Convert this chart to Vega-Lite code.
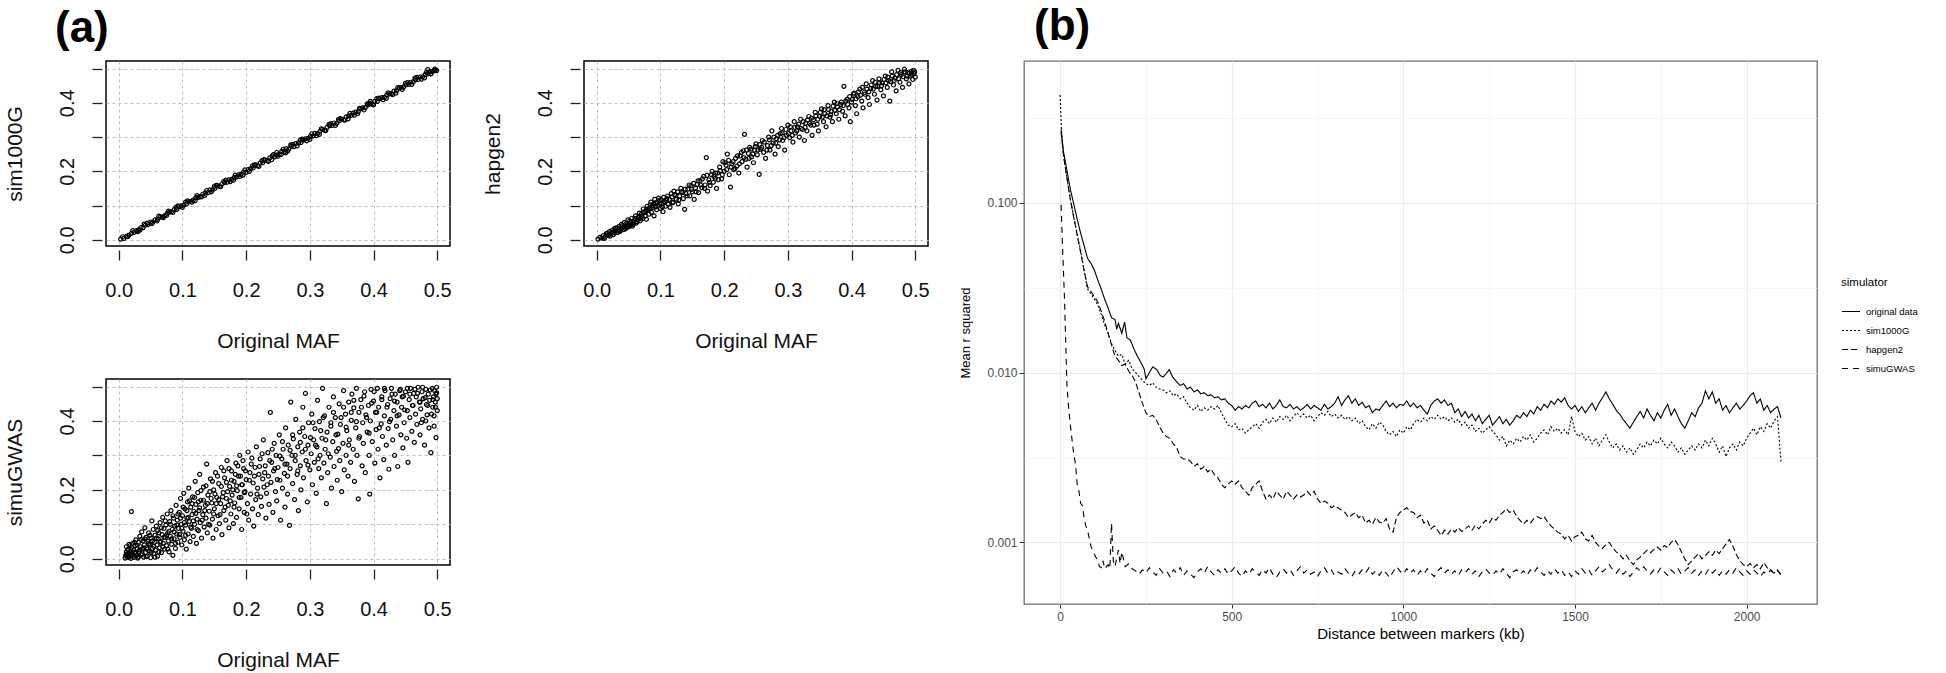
{
"$schema": "https://vega.github.io/schema/vega-lite/v6.json",
"padding": {"left": 3, "top": 4, "right": 0, "bottom": 0},
"autosize": {"type": "pad"},
"config": {
  "font": "Liberation Sans",
  "title": {"font": "Liberation Sans", "fontSize": 44, "fontWeight": "bold", "anchor": "start", "frame": "group", "color": "black"}
},
"datasets": {
"s1000": [
{"x":0.003,"y":0.002},{"x":0.008,"y":0.004},{"x":0.012,"y":0.010},{"x":0.016,"y":0.014},{"x":0.020,"y":0.019},{"x":0.024,"y":0.022},{"x":0.028,"y":0.027},{"x":0.031,"y":0.029},{"x":0.035,"y":0.036},{"x":0.038,"y":0.035},{"x":0.042,"y":0.043},{"x":0.046,"y":0.044},{"x":0.050,"y":0.052},{"x":0.053,"y":0.051},{"x":0.057,"y":0.058},{"x":0.061,"y":0.060},{"x":0.065,"y":0.066},{"x":0.068,"y":0.067},{"x":0.072,"y":0.070},{"x":0.076,"y":0.077},{"x":0.080,"y":0.081},{"x":0.083,"y":0.082},{"x":0.087,"y":0.088},{"x":0.091,"y":0.089},{"x":0.095,"y":0.097},{"x":0.098,"y":0.099},{"x":0.102,"y":0.101},{"x":0.106,"y":0.104},{"x":0.110,"y":0.111},{"x":0.113,"y":0.112},{"x":0.117,"y":0.116},{"x":0.121,"y":0.123},{"x":0.125,"y":0.124},{"x":0.128,"y":0.126},{"x":0.132,"y":0.133},{"x":0.136,"y":0.137},{"x":0.140,"y":0.138},{"x":0.143,"y":0.146},{"x":0.147,"y":0.145},{"x":0.151,"y":0.150},{"x":0.155,"y":0.158},{"x":0.158,"y":0.156},{"x":0.162,"y":0.163},{"x":0.166,"y":0.167},{"x":0.170,"y":0.168},{"x":0.173,"y":0.175},{"x":0.177,"y":0.176},{"x":0.181,"y":0.182},{"x":0.185,"y":0.184},{"x":0.188,"y":0.190},{"x":0.192,"y":0.191},{"x":0.196,"y":0.198},{"x":0.200,"y":0.197},{"x":0.203,"y":0.205},{"x":0.207,"y":0.208},{"x":0.211,"y":0.210},{"x":0.215,"y":0.219},{"x":0.218,"y":0.216},{"x":0.222,"y":0.224},{"x":0.226,"y":0.225},{"x":0.230,"y":0.233},{"x":0.233,"y":0.231},{"x":0.237,"y":0.239},{"x":0.241,"y":0.245},{"x":0.245,"y":0.242},{"x":0.248,"y":0.247},{"x":0.252,"y":0.250},{"x":0.256,"y":0.258},{"x":0.260,"y":0.257},{"x":0.263,"y":0.266},{"x":0.267,"y":0.265},{"x":0.271,"y":0.273},{"x":0.275,"y":0.272},{"x":0.278,"y":0.281},{"x":0.282,"y":0.283},{"x":0.286,"y":0.284},{"x":0.290,"y":0.292},{"x":0.293,"y":0.295},{"x":0.297,"y":0.296},{"x":0.301,"y":0.302},{"x":0.305,"y":0.303},{"x":0.308,"y":0.311},{"x":0.312,"y":0.310},{"x":0.316,"y":0.317},{"x":0.320,"y":0.322},{"x":0.323,"y":0.320},{"x":0.327,"y":0.328},{"x":0.331,"y":0.333},{"x":0.335,"y":0.334},{"x":0.338,"y":0.341},{"x":0.342,"y":0.340},{"x":0.346,"y":0.347},{"x":0.350,"y":0.352},{"x":0.353,"y":0.350},{"x":0.357,"y":0.359},{"x":0.361,"y":0.362},{"x":0.365,"y":0.363},{"x":0.368,"y":0.370},{"x":0.372,"y":0.373},{"x":0.376,"y":0.374},{"x":0.380,"y":0.383},{"x":0.383,"y":0.385},{"x":0.387,"y":0.386},{"x":0.391,"y":0.393},{"x":0.395,"y":0.397},{"x":0.398,"y":0.396},{"x":0.402,"y":0.404},{"x":0.406,"y":0.404},{"x":0.410,"y":0.412},{"x":0.413,"y":0.415},{"x":0.417,"y":0.416},{"x":0.421,"y":0.423},{"x":0.425,"y":0.426},{"x":0.428,"y":0.427},{"x":0.432,"y":0.434},{"x":0.436,"y":0.435},{"x":0.440,"y":0.442},{"x":0.443,"y":0.445},{"x":0.447,"y":0.446},{"x":0.451,"y":0.452},{"x":0.455,"y":0.454},{"x":0.458,"y":0.460},{"x":0.462,"y":0.461},{"x":0.466,"y":0.467},{"x":0.470,"y":0.468},{"x":0.473,"y":0.475},{"x":0.477,"y":0.476},{"x":0.481,"y":0.482},{"x":0.485,"y":0.484},{"x":0.488,"y":0.490},{"x":0.492,"y":0.491},{"x":0.495,"y":0.493},{"x":0.497,"y":0.496},{"x":0.499,"y":0.494},{"x":0.485,"y":0.497},
{"x":0.030,"y":0.024},{"x":0.060,"y":0.055},{"x":0.090,"y":0.095},{"x":0.120,"y":0.114},{"x":0.150,"y":0.156},{"x":0.180,"y":0.174},{"x":0.210,"y":0.216},{"x":0.240,"y":0.234},{"x":0.270,"y":0.277},{"x":0.300,"y":0.293},{"x":0.330,"y":0.337},{"x":0.360,"y":0.353},{"x":0.390,"y":0.397},{"x":0.420,"y":0.413},{"x":0.450,"y":0.457},{"x":0.480,"y":0.473},{"x":0.045,"y":0.049},{"x":0.075,"y":0.071},{"x":0.105,"y":0.110},{"x":0.135,"y":0.130},{"x":0.165,"y":0.171},{"x":0.195,"y":0.189},{"x":0.225,"y":0.231},{"x":0.255,"y":0.249},{"x":0.285,"y":0.291},{"x":0.315,"y":0.308},{"x":0.345,"y":0.352},{"x":0.375,"y":0.368},{"x":0.405,"y":0.412},{"x":0.435,"y":0.428},{"x":0.465,"y":0.472},{"x":0.490,"y":0.485},{"x":0.248,"y":0.255},{"x":0.262,"y":0.254},{"x":0.395,"y":0.404},
{"x":0.006,"y":0.009},{"x":0.014,"y":0.009},{"x":0.022,"y":0.027},{"x":0.033,"y":0.028},{"x":0.040,"y":0.046},{"x":0.052,"y":0.047},{"x":0.063,"y":0.069},{"x":0.070,"y":0.065},{"x":0.078,"y":0.084},{"x":0.085,"y":0.080},{"x":0.093,"y":0.099},{"x":0.100,"y":0.095},{"x":0.108,"y":0.114},{"x":0.115,"y":0.110},{"x":0.123,"y":0.129},{"x":0.130,"y":0.125},{"x":0.138,"y":0.144},{"x":0.145,"y":0.140},{"x":0.153,"y":0.159},{"x":0.160,"y":0.155},{"x":0.168,"y":0.174},{"x":0.175,"y":0.170},{"x":0.183,"y":0.189},{"x":0.190,"y":0.185},{"x":0.198,"y":0.204},{"x":0.205,"y":0.200},{"x":0.213,"y":0.219},{"x":0.220,"y":0.214},{"x":0.228,"y":0.234},{"x":0.235,"y":0.229},{"x":0.243,"y":0.249},{"x":0.250,"y":0.244},{"x":0.258,"y":0.264},{"x":0.265,"y":0.259},{"x":0.273,"y":0.279},{"x":0.280,"y":0.274},{"x":0.288,"y":0.294},{"x":0.295,"y":0.289},{"x":0.303,"y":0.309},{"x":0.310,"y":0.304},{"x":0.318,"y":0.324},{"x":0.325,"y":0.319},{"x":0.333,"y":0.339},{"x":0.340,"y":0.334},{"x":0.348,"y":0.354},{"x":0.355,"y":0.349},{"x":0.363,"y":0.369},{"x":0.370,"y":0.364},{"x":0.378,"y":0.384},{"x":0.385,"y":0.379},{"x":0.393,"y":0.399},{"x":0.400,"y":0.394},{"x":0.408,"y":0.414},{"x":0.415,"y":0.409},{"x":0.423,"y":0.429},{"x":0.430,"y":0.424},{"x":0.438,"y":0.444},{"x":0.445,"y":0.439},{"x":0.453,"y":0.459},{"x":0.460,"y":0.454},{"x":0.468,"y":0.474},{"x":0.475,"y":0.469},{"x":0.483,"y":0.489},{"x":0.490,"y":0.484},{"x":0.496,"y":0.498}
],
"hap": [
{"x":0.002,"y":0.002},{"x":0.008,"y":0.005},{"x":0.010,"y":0.012},{"x":0.013,"y":0.008},{"x":0.015,"y":0.018},{"x":0.018,"y":0.013},{"x":0.020,"y":0.024},{"x":0.022,"y":0.017},{"x":0.025,"y":0.021},{"x":0.027,"y":0.030},{"x":0.028,"y":0.020},{"x":0.030,"y":0.026},{"x":0.032,"y":0.035},{"x":0.034,"y":0.028},{"x":0.036,"y":0.024},{"x":0.038,"y":0.033},{"x":0.040,"y":0.041},{"x":0.042,"y":0.030},{"x":0.044,"y":0.038},{"x":0.046,"y":0.047},{"x":0.048,"y":0.036},{"x":0.050,"y":0.043},{"x":0.052,"y":0.055},{"x":0.054,"y":0.046},{"x":0.056,"y":0.040},{"x":0.058,"y":0.052},{"x":0.060,"y":0.062},{"x":0.062,"y":0.049},{"x":0.064,"y":0.058},{"x":0.066,"y":0.068},{"x":0.068,"y":0.055},{"x":0.070,"y":0.075},{"x":0.072,"y":0.062},{"x":0.074,"y":0.082},{"x":0.076,"y":0.070},{"x":0.078,"y":0.060},{"x":0.080,"y":0.090},{"x":0.082,"y":0.075},{"x":0.084,"y":0.102},{"x":0.086,"y":0.080},{"x":0.088,"y":0.095},{"x":0.090,"y":0.070},{"x":0.092,"y":0.108},{"x":0.094,"y":0.088},{"x":0.096,"y":0.100},{"x":0.098,"y":0.115},{"x":0.100,"y":0.092},{"x":0.102,"y":0.105},{"x":0.104,"y":0.082},{"x":0.106,"y":0.112},{"x":0.108,"y":0.098},{"x":0.110,"y":0.120},{"x":0.112,"y":0.104},{"x":0.115,"y":0.095},{"x":0.118,"y":0.125},{"x":0.120,"y":0.110},{"x":0.122,"y":0.132},{"x":0.125,"y":0.118},{"x":0.128,"y":0.105},{"x":0.130,"y":0.128},{"x":0.133,"y":0.140},{"x":0.136,"y":0.120},{"x":0.138,"y":0.089},{"x":0.140,"y":0.135},{"x":0.143,"y":0.148},{"x":0.146,"y":0.128},{"x":0.148,"y":0.158},{"x":0.150,"y":0.140},{"x":0.153,"y":0.118},{"x":0.155,"y":0.150},{"x":0.158,"y":0.162},{"x":0.160,"y":0.138},{"x":0.162,"y":0.172},{"x":0.165,"y":0.152},{"x":0.168,"y":0.185},{"x":0.170,"y":0.160},{"x":0.172,"y":0.240},{"x":0.174,"y":0.142},{"x":0.176,"y":0.175},{"x":0.178,"y":0.158},{"x":0.180,"y":0.190},{"x":0.183,"y":0.168},{"x":0.186,"y":0.180},{"x":0.188,"y":0.150},{"x":0.190,"y":0.195},{"x":0.193,"y":0.212},{"x":0.196,"y":0.178},{"x":0.198,"y":0.228},{"x":0.200,"y":0.200},{"x":0.203,"y":0.218},{"x":0.205,"y":0.250},{"x":0.208,"y":0.190},{"x":0.210,"y":0.154},{"x":0.212,"y":0.222},{"x":0.215,"y":0.205},{"x":0.218,"y":0.238},{"x":0.220,"y":0.215},{"x":0.223,"y":0.195},{"x":0.225,"y":0.245},{"x":0.228,"y":0.228},{"x":0.230,"y":0.260},{"x":0.232,"y":0.308},{"x":0.234,"y":0.235},{"x":0.236,"y":0.212},{"x":0.238,"y":0.252},{"x":0.240,"y":0.270},{"x":0.243,"y":0.242},{"x":0.246,"y":0.225},{"x":0.248,"y":0.262},{"x":0.250,"y":0.280},{"x":0.252,"y":0.248},{"x":0.255,"y":0.191},{"x":0.257,"y":0.265},{"x":0.260,"y":0.290},{"x":0.262,"y":0.255},{"x":0.265,"y":0.238},{"x":0.268,"y":0.275},{"x":0.270,"y":0.300},{"x":0.272,"y":0.262},{"x":0.275,"y":0.318},{"x":0.277,"y":0.282},{"x":0.280,"y":0.250},{"x":0.282,"y":0.295},{"x":0.285,"y":0.272},{"x":0.288,"y":0.310},{"x":0.290,"y":0.325},{"x":0.292,"y":0.290},{"x":0.295,"y":0.262},{"x":0.298,"y":0.305},{"x":0.300,"y":0.335},{"x":0.303,"y":0.298},{"x":0.305,"y":0.318},{"x":0.308,"y":0.285},{"x":0.310,"y":0.345},{"x":0.312,"y":0.312},{"x":0.315,"y":0.330},{"x":0.318,"y":0.300},{"x":0.320,"y":0.352},{"x":0.323,"y":0.322},{"x":0.326,"y":0.290},{"x":0.328,"y":0.340},{"x":0.330,"y":0.318},{"x":0.333,"y":0.360},{"x":0.336,"y":0.335},{"x":0.338,"y":0.305},{"x":0.340,"y":0.350},{"x":0.343,"y":0.372},{"x":0.346,"y":0.338},{"x":0.348,"y":0.318},{"x":0.350,"y":0.360},{"x":0.353,"y":0.382},{"x":0.356,"y":0.345},{"x":0.358,"y":0.368},{"x":0.360,"y":0.330},{"x":0.363,"y":0.392},{"x":0.366,"y":0.358},{"x":0.368,"y":0.375},{"x":0.370,"y":0.345},{"x":0.373,"y":0.402},{"x":0.376,"y":0.368},{"x":0.378,"y":0.388},{"x":0.380,"y":0.352},{"x":0.383,"y":0.395},{"x":0.386,"y":0.375},{"x":0.388,"y":0.448},{"x":0.390,"y":0.362},{"x":0.393,"y":0.410},{"x":0.396,"y":0.385},{"x":0.398,"y":0.345},{"x":0.400,"y":0.402},{"x":0.403,"y":0.425},{"x":0.406,"y":0.392},{"x":0.408,"y":0.368},{"x":0.410,"y":0.418},{"x":0.413,"y":0.440},{"x":0.416,"y":0.405},{"x":0.418,"y":0.385},{"x":0.420,"y":0.430},{"x":0.423,"y":0.455},{"x":0.426,"y":0.415},{"x":0.428,"y":0.395},{"x":0.430,"y":0.442},{"x":0.433,"y":0.465},{"x":0.436,"y":0.425},{"x":0.438,"y":0.448},{"x":0.440,"y":0.408},{"x":0.443,"y":0.470},{"x":0.446,"y":0.438},{"x":0.448,"y":0.458},{"x":0.450,"y":0.420},{"x":0.453,"y":0.478},{"x":0.456,"y":0.445},{"x":0.458,"y":0.465},{"x":0.460,"y":0.405},{"x":0.463,"y":0.490},{"x":0.466,"y":0.452},{"x":0.468,"y":0.472},{"x":0.470,"y":0.435},{"x":0.473,"y":0.495},{"x":0.476,"y":0.460},{"x":0.478,"y":0.482},{"x":0.480,"y":0.445},{"x":0.483,"y":0.498},{"x":0.486,"y":0.470},{"x":0.488,"y":0.488},{"x":0.490,"y":0.455},{"x":0.492,"y":0.478},{"x":0.494,"y":0.492},{"x":0.496,"y":0.468},{"x":0.498,"y":0.485},{"x":0.500,"y":0.475},{"x":0.497,"y":0.495},
{"x":0.005,"y":0.007},{"x":0.012,"y":0.004},{"x":0.017,"y":0.020},{"x":0.021,"y":0.011},{"x":0.024,"y":0.028},{"x":0.026,"y":0.015},{"x":0.029,"y":0.034},{"x":0.033,"y":0.022},{"x":0.035,"y":0.039},{"x":0.037,"y":0.027},{"x":0.039,"y":0.045},{"x":0.041,"y":0.036},{"x":0.043,"y":0.050},{"x":0.045,"y":0.032},{"x":0.047,"y":0.041},{"x":0.049,"y":0.058},{"x":0.051,"y":0.039},{"x":0.053,"y":0.050},{"x":0.055,"y":0.063},{"x":0.057,"y":0.045},{"x":0.059,"y":0.057},{"x":0.061,"y":0.070},{"x":0.063,"y":0.053},{"x":0.065,"y":0.064},{"x":0.067,"y":0.078},{"x":0.069,"y":0.062},{"x":0.071,"y":0.068},{"x":0.073,"y":0.090},{"x":0.075,"y":0.079},{"x":0.077,"y":0.085},{"x":0.079,"y":0.098},{"x":0.081,"y":0.087},{"x":0.083,"y":0.093},{"x":0.085,"y":0.110},{"x":0.087,"y":0.099},{"x":0.089,"y":0.104},{"x":0.091,"y":0.118},{"x":0.093,"y":0.096},{"x":0.095,"y":0.109},{"x":0.097,"y":0.122},{"x":0.099,"y":0.107},{"x":0.101,"y":0.117},{"x":0.103,"y":0.096},{"x":0.105,"y":0.124},{"x":0.107,"y":0.110},{"x":0.109,"y":0.115},{"x":0.111,"y":0.128},{"x":0.114,"y":0.118},{"x":0.117,"y":0.135},{"x":0.119,"y":0.108},{"x":0.121,"y":0.142},{"x":0.124,"y":0.130},{"x":0.127,"y":0.140},{"x":0.129,"y":0.116},{"x":0.132,"y":0.150},{"x":0.135,"y":0.138},{"x":0.139,"y":0.148},{"x":0.142,"y":0.128},{"x":0.145,"y":0.160},{"x":0.149,"y":0.147},{"x":0.152,"y":0.165},{"x":0.156,"y":0.140},{"x":0.159,"y":0.172},{"x":0.163,"y":0.160},{"x":0.166,"y":0.178},{"x":0.169,"y":0.150},{"x":0.173,"y":0.188},{"x":0.177,"y":0.168},{"x":0.181,"y":0.200},{"x":0.184,"y":0.185},{"x":0.187,"y":0.195},{"x":0.191,"y":0.176},{"x":0.194,"y":0.202},{"x":0.197,"y":0.190},{"x":0.201,"y":0.225},{"x":0.204,"y":0.205},{"x":0.207,"y":0.232},{"x":0.211,"y":0.212},{"x":0.214,"y":0.228},{"x":0.217,"y":0.208},{"x":0.221,"y":0.245},{"x":0.224,"y":0.222},{"x":0.227,"y":0.255},{"x":0.231,"y":0.240},{"x":0.235,"y":0.262},{"x":0.239,"y":0.238},{"x":0.242,"y":0.265},{"x":0.245,"y":0.250},{"x":0.249,"y":0.272},{"x":0.253,"y":0.262},{"x":0.256,"y":0.278},{"x":0.259,"y":0.270},{"x":0.263,"y":0.285},{"x":0.267,"y":0.262},{"x":0.271,"y":0.292},{"x":0.274,"y":0.275},{"x":0.278,"y":0.300},{"x":0.281,"y":0.282},{"x":0.284,"y":0.305},{"x":0.287,"y":0.292},{"x":0.291,"y":0.312},{"x":0.294,"y":0.298},{"x":0.297,"y":0.322},{"x":0.301,"y":0.310},{"x":0.304,"y":0.330},{"x":0.307,"y":0.305},{"x":0.311,"y":0.328},{"x":0.314,"y":0.318},{"x":0.317,"y":0.338},{"x":0.321,"y":0.325},{"x":0.324,"y":0.345},{"x":0.327,"y":0.328},{"x":0.331,"y":0.350},{"x":0.334,"y":0.340},{"x":0.337,"y":0.355},{"x":0.341,"y":0.335},{"x":0.344,"y":0.362},{"x":0.347,"y":0.352},{"x":0.351,"y":0.372},{"x":0.354,"y":0.358},{"x":0.357,"y":0.380},{"x":0.361,"y":0.362},{"x":0.364,"y":0.380},{"x":0.367,"y":0.365},{"x":0.371,"y":0.390},{"x":0.374,"y":0.378},{"x":0.377,"y":0.398},{"x":0.381,"y":0.380},{"x":0.384,"y":0.402},{"x":0.387,"y":0.392},{"x":0.391,"y":0.405},{"x":0.394,"y":0.395},{"x":0.397,"y":0.418},{"x":0.401,"y":0.410},{"x":0.404,"y":0.428},{"x":0.407,"y":0.412},{"x":0.411,"y":0.432},{"x":0.414,"y":0.422},{"x":0.417,"y":0.445},{"x":0.421,"y":0.425},{"x":0.424,"y":0.440},{"x":0.427,"y":0.432},{"x":0.431,"y":0.452},{"x":0.434,"y":0.440},{"x":0.437,"y":0.460},{"x":0.441,"y":0.448},{"x":0.444,"y":0.458},{"x":0.447,"y":0.450},{"x":0.451,"y":0.468},{"x":0.454,"y":0.458},{"x":0.457,"y":0.475},{"x":0.461,"y":0.462},{"x":0.464,"y":0.478},{"x":0.467,"y":0.465},{"x":0.471,"y":0.482},{"x":0.474,"y":0.470},{"x":0.477,"y":0.488},{"x":0.481,"y":0.476},{"x":0.484,"y":0.490},{"x":0.487,"y":0.478},{"x":0.491,"y":0.486},{"x":0.495,"y":0.480},{"x":0.499,"y":0.490}
],
"sgwas": [
{"x":0.010,"y":0.002},{"x":0.011,"y":0.010},{"x":0.012,"y":0.020},{"x":0.012,"y":0.035},{"x":0.013,"y":0.005},{"x":0.014,"y":0.015},{"x":0.015,"y":0.028},{"x":0.016,"y":0.042},{"x":0.017,"y":0.008},{"x":0.018,"y":0.022},{"x":0.019,"y":0.001},{"x":0.020,"y":0.032},{"x":0.020,"y":0.137},{"x":0.021,"y":0.012},{"x":0.022,"y":0.045},{"x":0.023,"y":0.025},{"x":0.024,"y":0.004},{"x":0.025,"y":0.018},{"x":0.026,"y":0.038},{"x":0.027,"y":0.055},{"x":0.028,"y":0.010},{"x":0.029,"y":0.030},{"x":0.030,"y":0.002},{"x":0.031,"y":0.048},{"x":0.032,"y":0.020},{"x":0.033,"y":0.065},{"x":0.034,"y":0.035},{"x":0.035,"y":0.012},{"x":0.036,"y":0.078},{"x":0.037,"y":0.028},{"x":0.038,"y":0.052},{"x":0.039,"y":0.005},{"x":0.040,"y":0.040},{"x":0.041,"y":0.090},{"x":0.042,"y":0.018},{"x":0.043,"y":0.062},{"x":0.044,"y":0.032},{"x":0.045,"y":0.008},{"x":0.046,"y":0.050},{"x":0.047,"y":0.075},{"x":0.048,"y":0.022},{"x":0.049,"y":0.042},{"x":0.050,"y":0.003},{"x":0.051,"y":0.060},{"x":0.052,"y":0.110},{"x":0.053,"y":0.030},{"x":0.054,"y":0.085},{"x":0.055,"y":0.015},{"x":0.056,"y":0.048},{"x":0.057,"y":0.068},{"x":0.058,"y":0.025},{"x":0.059,"y":0.095},{"x":0.060,"y":0.040},{"x":0.061,"y":0.008},{"x":0.062,"y":0.058},{"x":0.063,"y":0.075},{"x":0.064,"y":0.032},{"x":0.065,"y":0.105},{"x":0.066,"y":0.050},{"x":0.067,"y":0.018},{"x":0.068,"y":0.070},{"x":0.069,"y":0.120},{"x":0.070,"y":0.045},{"x":0.071,"y":0.088},{"x":0.072,"y":0.028},{"x":0.073,"y":0.062},{"x":0.074,"y":0.098},{"x":0.075,"y":0.038},{"x":0.076,"y":0.130},{"x":0.077,"y":0.075},{"x":0.078,"y":0.052},{"x":0.079,"y":0.020},{"x":0.080,"y":0.108},{"x":0.081,"y":0.065},{"x":0.082,"y":0.140},{"x":0.083,"y":0.042},{"x":0.084,"y":0.085},{"x":0.085,"y":0.010},{"x":0.086,"y":0.118},{"x":0.087,"y":0.058},{"x":0.088,"y":0.095},{"x":0.089,"y":0.030},{"x":0.090,"y":0.155},{"x":0.091,"y":0.072},{"x":0.092,"y":0.112},{"x":0.093,"y":0.048},{"x":0.094,"y":0.088},{"x":0.095,"y":0.135},{"x":0.096,"y":0.062},{"x":0.097,"y":0.175},{"x":0.098,"y":0.100},{"x":0.099,"y":0.040},{"x":0.100,"y":0.125},{"x":0.101,"y":0.080},{"x":0.102,"y":0.190},{"x":0.103,"y":0.055},{"x":0.104,"y":0.145},{"x":0.105,"y":0.098},{"x":0.106,"y":0.028},{"x":0.107,"y":0.118},{"x":0.108,"y":0.165},{"x":0.109,"y":0.072},{"x":0.110,"y":0.205},{"x":0.111,"y":0.108},{"x":0.112,"y":0.050},{"x":0.113,"y":0.150},{"x":0.114,"y":0.088},{"x":0.115,"y":0.128},{"x":0.116,"y":0.180},{"x":0.117,"y":0.065},{"x":0.118,"y":0.138},{"x":0.119,"y":0.100},{"x":0.120,"y":0.225},{"x":0.121,"y":0.158},{"x":0.122,"y":0.045},{"x":0.123,"y":0.115},{"x":0.124,"y":0.192},{"x":0.125,"y":0.082},{"x":0.126,"y":0.140},{"x":0.127,"y":0.245},{"x":0.128,"y":0.105},{"x":0.129,"y":0.170},{"x":0.130,"y":0.060},{"x":0.132,"y":0.128},{"x":0.133,"y":0.208},{"x":0.134,"y":0.092},{"x":0.136,"y":0.155},{"x":0.137,"y":0.118},{"x":0.138,"y":0.275},{"x":0.139,"y":0.075},{"x":0.140,"y":0.185},{"x":0.142,"y":0.138},{"x":0.143,"y":0.098},{"x":0.144,"y":0.232},{"x":0.146,"y":0.162},{"x":0.147,"y":0.115},{"x":0.148,"y":0.060},{"x":0.149,"y":0.200},{"x":0.150,"y":0.145},{"x":0.152,"y":0.250},{"x":0.153,"y":0.085},{"x":0.154,"y":0.178},{"x":0.156,"y":0.125},{"x":0.157,"y":0.218},{"x":0.158,"y":0.102},{"x":0.160,"y":0.160},{"x":0.161,"y":0.265},{"x":0.162,"y":0.070},{"x":0.164,"y":0.192},{"x":0.165,"y":0.140},{"x":0.166,"y":0.235},{"x":0.168,"y":0.112},{"x":0.169,"y":0.175},{"x":0.170,"y":0.285},{"x":0.172,"y":0.155},{"x":0.173,"y":0.090},{"x":0.174,"y":0.210},{"x":0.176,"y":0.130},{"x":0.177,"y":0.255},{"x":0.178,"y":0.185},{"x":0.180,"y":0.102},{"x":0.181,"y":0.225},{"x":0.182,"y":0.162},{"x":0.184,"y":0.278},{"x":0.185,"y":0.120},{"x":0.186,"y":0.198},{"x":0.188,"y":0.240},{"x":0.189,"y":0.145},{"x":0.190,"y":0.300},{"x":0.192,"y":0.178},{"x":0.193,"y":0.085},{"x":0.194,"y":0.215},{"x":0.196,"y":0.262},{"x":0.197,"y":0.135},{"x":0.198,"y":0.195},{"x":0.200,"y":0.230},{"x":0.202,"y":0.160},{"x":0.203,"y":0.310},{"x":0.204,"y":0.112},{"x":0.206,"y":0.250},{"x":0.207,"y":0.188},{"x":0.208,"y":0.275},{"x":0.210,"y":0.145},{"x":0.211,"y":0.220},{"x":0.212,"y":0.095},{"x":0.214,"y":0.265},{"x":0.215,"y":0.172},{"x":0.216,"y":0.325},{"x":0.218,"y":0.205},{"x":0.219,"y":0.128},{"x":0.220,"y":0.245},{"x":0.222,"y":0.290},{"x":0.223,"y":0.180},{"x":0.224,"y":0.152},{"x":0.226,"y":0.232},{"x":0.227,"y":0.345},{"x":0.228,"y":0.208},{"x":0.230,"y":0.270},{"x":0.231,"y":0.118},{"x":0.232,"y":0.190},{"x":0.234,"y":0.308},{"x":0.235,"y":0.240},{"x":0.236,"y":0.158},{"x":0.238,"y":0.425},{"x":0.239,"y":0.222},{"x":0.240,"y":0.280},{"x":0.242,"y":0.135},{"x":0.243,"y":0.255},{"x":0.244,"y":0.335},{"x":0.246,"y":0.195},{"x":0.247,"y":0.300},{"x":0.248,"y":0.168},{"x":0.250,"y":0.265},{"x":0.252,"y":0.360},{"x":0.253,"y":0.228},{"x":0.254,"y":0.112},{"x":0.256,"y":0.290},{"x":0.257,"y":0.205},{"x":0.258,"y":0.318},{"x":0.260,"y":0.248},{"x":0.261,"y":0.150},{"x":0.262,"y":0.380},{"x":0.264,"y":0.275},{"x":0.265,"y":0.188},{"x":0.266,"y":0.330},{"x":0.268,"y":0.097},{"x":0.269,"y":0.262},{"x":0.270,"y":0.455},{"x":0.272,"y":0.300},{"x":0.273,"y":0.218},{"x":0.274,"y":0.348},{"x":0.276,"y":0.172},{"x":0.277,"y":0.285},{"x":0.278,"y":0.405},{"x":0.280,"y":0.245},{"x":0.281,"y":0.325},{"x":0.282,"y":0.140},{"x":0.284,"y":0.368},{"x":0.285,"y":0.270},{"x":0.286,"y":0.200},{"x":0.288,"y":0.310},{"x":0.289,"y":0.440},{"x":0.290,"y":0.235},{"x":0.292,"y":0.355},{"x":0.293,"y":0.480},{"x":0.294,"y":0.285},{"x":0.296,"y":0.165},{"x":0.297,"y":0.330},{"x":0.298,"y":0.395},{"x":0.300,"y":0.258},{"x":0.302,"y":0.305},{"x":0.303,"y":0.420},{"x":0.304,"y":0.215},{"x":0.306,"y":0.345},{"x":0.307,"y":0.280},{"x":0.308,"y":0.378},{"x":0.310,"y":0.190},{"x":0.311,"y":0.325},{"x":0.312,"y":0.460},{"x":0.314,"y":0.262},{"x":0.315,"y":0.398},{"x":0.316,"y":0.300},{"x":0.318,"y":0.235},{"x":0.319,"y":0.350},{"x":0.320,"y":0.495},{"x":0.322,"y":0.278},{"x":0.323,"y":0.415},{"x":0.324,"y":0.318},{"x":0.326,"y":0.160},{"x":0.327,"y":0.368},{"x":0.328,"y":0.250},{"x":0.330,"y":0.440},{"x":0.332,"y":0.295},{"x":0.333,"y":0.385},{"x":0.334,"y":0.205},{"x":0.336,"y":0.340},{"x":0.337,"y":0.470},{"x":0.338,"y":0.268},{"x":0.340,"y":0.410},{"x":0.342,"y":0.312},{"x":0.343,"y":0.228},{"x":0.344,"y":0.362},{"x":0.346,"y":0.450},{"x":0.347,"y":0.285},{"x":0.348,"y":0.390},{"x":0.350,"y":0.195},{"x":0.352,"y":0.335},{"x":0.353,"y":0.488},{"x":0.354,"y":0.258},{"x":0.356,"y":0.420},{"x":0.357,"y":0.300},{"x":0.358,"y":0.372},{"x":0.360,"y":0.240},{"x":0.361,"y":0.455},{"x":0.362,"y":0.345},{"x":0.364,"y":0.280},{"x":0.365,"y":0.402},{"x":0.366,"y":0.478},{"x":0.368,"y":0.318},{"x":0.369,"y":0.438},{"x":0.370,"y":0.225},{"x":0.372,"y":0.380},{"x":0.373,"y":0.495},{"x":0.374,"y":0.300},{"x":0.376,"y":0.174},{"x":0.377,"y":0.425},{"x":0.378,"y":0.355},{"x":0.380,"y":0.462},{"x":0.382,"y":0.270},{"x":0.383,"y":0.395},{"x":0.384,"y":0.335},{"x":0.386,"y":0.485},{"x":0.387,"y":0.250},{"x":0.388,"y":0.418},{"x":0.390,"y":0.368},{"x":0.392,"y":0.445},{"x":0.393,"y":0.300},{"x":0.394,"y":0.188},{"x":0.395,"y":0.400},{"x":0.396,"y":0.492},{"x":0.398,"y":0.340},{"x":0.400,"y":0.458},{"x":0.402,"y":0.278},{"x":0.403,"y":0.425},{"x":0.404,"y":0.375},{"x":0.406,"y":0.495},{"x":0.407,"y":0.318},{"x":0.408,"y":0.440},{"x":0.410,"y":0.235},{"x":0.412,"y":0.392},{"x":0.413,"y":0.470},{"x":0.414,"y":0.355},{"x":0.416,"y":0.288},{"x":0.417,"y":0.415},{"x":0.418,"y":0.488},{"x":0.420,"y":0.330},{"x":0.422,"y":0.448},{"x":0.423,"y":0.378},{"x":0.424,"y":0.260},{"x":0.426,"y":0.465},{"x":0.427,"y":0.405},{"x":0.428,"y":0.495},{"x":0.430,"y":0.345},{"x":0.432,"y":0.430},{"x":0.433,"y":0.300},{"x":0.434,"y":0.478},{"x":0.436,"y":0.385},{"x":0.437,"y":0.455},{"x":0.438,"y":0.268},{"x":0.440,"y":0.418},{"x":0.442,"y":0.492},{"x":0.443,"y":0.360},{"x":0.444,"y":0.440},{"x":0.446,"y":0.322},{"x":0.447,"y":0.472},{"x":0.448,"y":0.395},{"x":0.450,"y":0.485},{"x":0.452,"y":0.350},{"x":0.453,"y":0.430},{"x":0.454,"y":0.280},{"x":0.456,"y":0.462},{"x":0.457,"y":0.410},{"x":0.458,"y":0.495},{"x":0.460,"y":0.370},{"x":0.462,"y":0.445},{"x":0.463,"y":0.480},{"x":0.464,"y":0.338},{"x":0.466,"y":0.420},{"x":0.467,"y":0.470},{"x":0.468,"y":0.390},{"x":0.470,"y":0.498},{"x":0.472,"y":0.455},{"x":0.473,"y":0.360},{"x":0.474,"y":0.435},{"x":0.476,"y":0.485},{"x":0.477,"y":0.405},{"x":0.478,"y":0.465},{"x":0.480,"y":0.330},{"x":0.482,"y":0.492},{"x":0.483,"y":0.448},{"x":0.484,"y":0.418},{"x":0.486,"y":0.478},{"x":0.487,"y":0.380},{"x":0.488,"y":0.460},{"x":0.490,"y":0.308},{"x":0.492,"y":0.495},{"x":0.493,"y":0.440},{"x":0.494,"y":0.470},{"x":0.495,"y":0.415},{"x":0.496,"y":0.488},{"x":0.497,"y":0.455},{"x":0.498,"y":0.478},{"x":0.499,"y":0.498},{"x":0.500,"y":0.465},{"x":0.500,"y":0.430},{"x":0.498,"y":0.352},{"x":0.495,"y":0.385},
{"x":0.012,"y":0.012},{"x":0.014,"y":0.026},{"x":0.016,"y":0.004},{"x":0.018,"y":0.038},{"x":0.021,"y":0.020},{"x":0.023,"y":0.008},{"x":0.025,"y":0.048},{"x":0.027,"y":0.016},{"x":0.029,"y":0.040},{"x":0.031,"y":0.006},{"x":0.033,"y":0.026},{"x":0.035,"y":0.056},{"x":0.037,"y":0.014},{"x":0.039,"y":0.032},{"x":0.041,"y":0.058},{"x":0.043,"y":0.006},{"x":0.045,"y":0.028},{"x":0.047,"y":0.044},{"x":0.049,"y":0.068},{"x":0.051,"y":0.018},{"x":0.053,"y":0.052},{"x":0.055,"y":0.036},{"x":0.057,"y":0.005},{"x":0.059,"y":0.060},{"x":0.061,"y":0.082},{"x":0.063,"y":0.020},{"x":0.065,"y":0.048},{"x":0.067,"y":0.090},{"x":0.069,"y":0.035},{"x":0.071,"y":0.062},{"x":0.073,"y":0.110},{"x":0.075,"y":0.068},{"x":0.077,"y":0.028},{"x":0.079,"y":0.080},{"x":0.081,"y":0.100},{"x":0.083,"y":0.058},{"x":0.085,"y":0.125},{"x":0.087,"y":0.078},{"x":0.089,"y":0.045},{"x":0.091,"y":0.098},{"x":0.093,"y":0.130},{"x":0.095,"y":0.070},{"x":0.097,"y":0.118},{"x":0.099,"y":0.088},{"x":0.101,"y":0.150},{"x":0.103,"y":0.105},{"x":0.105,"y":0.068},{"x":0.107,"y":0.140},{"x":0.109,"y":0.120},{"x":0.111,"y":0.168},{"x":0.113,"y":0.092},{"x":0.115,"y":0.160},{"x":0.117,"y":0.110},{"x":0.119,"y":0.178},{"x":0.121,"y":0.132},{"x":0.123,"y":0.085},{"x":0.125,"y":0.165},{"x":0.127,"y":0.148},{"x":0.129,"y":0.198},{"x":0.131,"y":0.112},{"x":0.133,"y":0.170},{"x":0.135,"y":0.140},{"x":0.137,"y":0.212},{"x":0.139,"y":0.160},{"x":0.141,"y":0.100},{"x":0.143,"y":0.195},{"x":0.145,"y":0.175},{"x":0.147,"y":0.225},{"x":0.149,"y":0.130},{"x":0.151,"y":0.188},{"x":0.153,"y":0.160},{"x":0.155,"y":0.240},{"x":0.157,"y":0.172},{"x":0.159,"y":0.128},{"x":0.161,"y":0.210},{"x":0.163,"y":0.180},{"x":0.165,"y":0.255},{"x":0.167,"y":0.150},{"x":0.169,"y":0.222},{"x":0.171,"y":0.195},{"x":0.173,"y":0.262},{"x":0.175,"y":0.168},{"x":0.177,"y":0.228},{"x":0.179,"y":0.200},{"x":0.181,"y":0.150},{"x":0.183,"y":0.245},{"x":0.185,"y":0.212},{"x":0.187,"y":0.270},{"x":0.189,"y":0.178},{"x":0.191,"y":0.240},{"x":0.193,"y":0.215},{"x":0.195,"y":0.285},{"x":0.197,"y":0.192},{"x":0.199,"y":0.255},{"x":0.201,"y":0.130},{"x":0.205,"y":0.228},{"x":0.209,"y":0.292},{"x":0.213,"y":0.240},{"x":0.217,"y":0.188},{"x":0.221,"y":0.268},{"x":0.225,"y":0.305},{"x":0.229,"y":0.250},{"x":0.233,"y":0.215},{"x":0.237,"y":0.285},{"x":0.241,"y":0.318},{"x":0.245,"y":0.262},{"x":0.249,"y":0.230},{"x":0.253,"y":0.298},{"x":0.257,"y":0.340},{"x":0.261,"y":0.275},{"x":0.265,"y":0.240},{"x":0.269,"y":0.315},{"x":0.273,"y":0.360},{"x":0.277,"y":0.300},{"x":0.281,"y":0.255},{"x":0.285,"y":0.338},{"x":0.289,"y":0.380},{"x":0.293,"y":0.318},{"x":0.297,"y":0.272},{"x":0.301,"y":0.352},{"x":0.305,"y":0.395},{"x":0.309,"y":0.330},{"x":0.313,"y":0.290},{"x":0.317,"y":0.372},{"x":0.321,"y":0.410},{"x":0.325,"y":0.345},{"x":0.329,"y":0.305},{"x":0.333,"y":0.395},{"x":0.337,"y":0.425},{"x":0.341,"y":0.360},{"x":0.345,"y":0.320},{"x":0.349,"y":0.410},{"x":0.353,"y":0.440},{"x":0.357,"y":0.382},{"x":0.361,"y":0.330},{"x":0.365,"y":0.425},{"x":0.369,"y":0.460},{"x":0.373,"y":0.398},{"x":0.377,"y":0.350},{"x":0.381,"y":0.440},{"x":0.385,"y":0.472},{"x":0.389,"y":0.410},{"x":0.393,"y":0.365},{"x":0.397,"y":0.452},{"x":0.401,"y":0.485},{"x":0.405,"y":0.425},{"x":0.409,"y":0.380},{"x":0.413,"y":0.462},{"x":0.417,"y":0.495},{"x":0.421,"y":0.440},{"x":0.425,"y":0.398},{"x":0.429,"y":0.478},{"x":0.433,"y":0.458},{"x":0.437,"y":0.415},{"x":0.441,"y":0.488},{"x":0.445,"y":0.470},{"x":0.449,"y":0.432},{"x":0.453,"y":0.495},{"x":0.457,"y":0.478},{"x":0.461,"y":0.445},{"x":0.465,"y":0.492},{"x":0.469,"y":0.480},{"x":0.473,"y":0.455},{"x":0.477,"y":0.498},{"x":0.481,"y":0.468},{"x":0.485,"y":0.445},{"x":0.489,"y":0.490},{"x":0.493,"y":0.462},{"x":0.497,"y":0.440},{"x":0.499,"y":0.482},{"x":0.491,"y":0.420},{"x":0.482,"y":0.400},{"x":0.475,"y":0.395}
],
"lo": [
{"x":3,"y":0.27},{"x":10,"y":0.2},{"x":20,"y":0.155},{"x":30,"y":0.12},{"x":40,"y":0.098},{"x":50,"y":0.08},{"x":60,"y":0.066},{"x":70,"y":0.056},{"x":80,"y":0.047},{"x":90,"y":0.044},{"x":100,"y":0.04},{"x":110,"y":0.035},{"x":120,"y":0.031},{"x":130,"y":0.027},{"x":140,"y":0.024},{"x":150,"y":0.021},{"x":160,"y":0.0205},{"x":165,"y":0.018},{"x":170,"y":0.0195},{"x":180,"y":0.017},{"x":188,"y":0.0198},{"x":195,"y":0.016},{"x":205,"y":0.0155},{"x":215,"y":0.0138},{"x":225,"y":0.0125},{"x":235,"y":0.0115},{"x":245,"y":0.0105},{"x":250,"y":0.0092},{"x":258,"y":0.0098},{"x":270,"y":0.0108},{"x":282,"y":0.0104},{"x":292,"y":0.0096},{"x":300,"y":0.0094},{"x":310,"y":0.0099},{"x":318,"y":0.0104},{"x":328,"y":0.0094},{"x":340,"y":0.0088},{"x":350,"y":0.0084},{"x":360,"y":0.0086},{"x":370,"y":0.008},{"x":380,"y":0.0082},{"x":390,"y":0.0077},{"x":400,"y":0.0079},{"x":410,"y":0.0075},{"x":420,"y":0.0076},{"x":430,"y":0.0073},{"x":440,"y":0.0074},{"x":450,"y":0.0071},{"x":460,"y":0.0072},{"x":470,"y":0.0069},{"x":480,"y":0.007},{"x":490,"y":0.0066},{"x":500,"y":0.0064},{"x":510,"y":0.006},{"x":520,"y":0.0063},{"x":530,"y":0.0061},{"x":540,"y":0.0064},{"x":550,"y":0.0062},{"x":560,"y":0.0066},{"x":570,"y":0.0068},{"x":580,"y":0.0063},{"x":590,"y":0.0065},{"x":600,"y":0.0062},{"x":610,"y":0.0066},{"x":620,"y":0.0061},{"x":630,"y":0.0064},{"x":640,"y":0.0069},{"x":650,"y":0.0063},{"x":660,"y":0.0062},{"x":670,"y":0.0065},{"x":680,"y":0.0061},{"x":690,"y":0.0063},{"x":700,"y":0.006},{"x":710,"y":0.0062},{"x":720,"y":0.0065},{"x":730,"y":0.0061},{"x":740,"y":0.0064},{"x":750,"y":0.0062},{"x":760,"y":0.006},{"x":770,"y":0.0065},{"x":780,"y":0.0061},{"x":790,"y":0.0063},{"x":800,"y":0.0066},{"x":810,"y":0.0072},{"x":820,"y":0.0064},{"x":830,"y":0.0069},{"x":840,"y":0.0073},{"x":850,"y":0.0066},{"x":860,"y":0.007},{"x":870,"y":0.0064},{"x":880,"y":0.0067},{"x":890,"y":0.0062},{"x":900,"y":0.0064},{"x":910,"y":0.0058},{"x":920,"y":0.0061},{"x":930,"y":0.006},{"x":940,"y":0.0064},{"x":950,"y":0.0068},{"x":960,"y":0.0063},{"x":970,"y":0.0066},{"x":980,"y":0.0062},{"x":990,"y":0.0065},{"x":1000,"y":0.0064},{"x":1010,"y":0.0068},{"x":1020,"y":0.0063},{"x":1030,"y":0.0066},{"x":1040,"y":0.0062},{"x":1050,"y":0.0064},{"x":1060,"y":0.006},{"x":1070,"y":0.0057},{"x":1080,"y":0.0064},{"x":1090,"y":0.0068},{"x":1100,"y":0.007},{"x":1110,"y":0.0066},{"x":1120,"y":0.0069},{"x":1130,"y":0.0064},{"x":1140,"y":0.0066},{"x":1150,"y":0.0058},{"x":1160,"y":0.0061},{"x":1170,"y":0.0055},{"x":1180,"y":0.0059},{"x":1190,"y":0.0054},{"x":1200,"y":0.0057},{"x":1210,"y":0.0052},{"x":1220,"y":0.0056},{"x":1230,"y":0.005},{"x":1240,"y":0.0053},{"x":1250,"y":0.0056},{"x":1260,"y":0.0049},{"x":1270,"y":0.0052},{"x":1280,"y":0.0055},{"x":1290,"y":0.005},{"x":1300,"y":0.0053},{"x":1310,"y":0.0049},{"x":1320,"y":0.0052},{"x":1330,"y":0.0056},{"x":1340,"y":0.0054},{"x":1350,"y":0.0058},{"x":1360,"y":0.0055},{"x":1370,"y":0.006},{"x":1380,"y":0.0057},{"x":1390,"y":0.0063},{"x":1400,"y":0.006},{"x":1410,"y":0.0065},{"x":1420,"y":0.0062},{"x":1430,"y":0.0068},{"x":1440,"y":0.0065},{"x":1450,"y":0.007},{"x":1460,"y":0.0067},{"x":1470,"y":0.0071},{"x":1480,"y":0.0064},{"x":1490,"y":0.0061},{"x":1500,"y":0.0064},{"x":1510,"y":0.0059},{"x":1520,"y":0.0063},{"x":1530,"y":0.0058},{"x":1540,"y":0.0062},{"x":1550,"y":0.0066},{"x":1560,"y":0.006},{"x":1570,"y":0.0066},{"x":1580,"y":0.0071},{"x":1590,"y":0.0077},{"x":1600,"y":0.007},{"x":1610,"y":0.0065},{"x":1620,"y":0.006},{"x":1630,"y":0.0057},{"x":1640,"y":0.0053},{"x":1650,"y":0.005},{"x":1660,"y":0.0047},{"x":1670,"y":0.0051},{"x":1680,"y":0.0055},{"x":1690,"y":0.0059},{"x":1700,"y":0.0054},{"x":1710,"y":0.0061},{"x":1720,"y":0.0056},{"x":1730,"y":0.0052},{"x":1740,"y":0.0058},{"x":1750,"y":0.0054},{"x":1760,"y":0.006},{"x":1770,"y":0.0065},{"x":1780,"y":0.0056},{"x":1790,"y":0.0061},{"x":1800,"y":0.0055},{"x":1810,"y":0.005},{"x":1820,"y":0.0047},{"x":1830,"y":0.0052},{"x":1840,"y":0.0058},{"x":1850,"y":0.0055},{"x":1860,"y":0.0062},{"x":1870,"y":0.0066},{"x":1880,"y":0.0078},{"x":1890,"y":0.007},{"x":1900,"y":0.0077},{"x":1910,"y":0.0066},{"x":1920,"y":0.007},{"x":1930,"y":0.006},{"x":1940,"y":0.0064},{"x":1950,"y":0.0058},{"x":1960,"y":0.0062},{"x":1970,"y":0.0066},{"x":1980,"y":0.0061},{"x":1990,"y":0.0064},{"x":2000,"y":0.0068},{"x":2010,"y":0.0073},{"x":2020,"y":0.0076},{"x":2030,"y":0.0066},{"x":2040,"y":0.007},{"x":2050,"y":0.006},{"x":2060,"y":0.0064},{"x":2070,"y":0.0058},{"x":2080,"y":0.0061},{"x":2090,"y":0.0063},{"x":2100,"y":0.0054}
],
"ls": [
{"x":0,"y":0.43},{"x":5,"y":0.25},{"x":10,"y":0.19},{"x":20,"y":0.14},{"x":30,"y":0.105},{"x":40,"y":0.082},{"x":50,"y":0.065},{"x":60,"y":0.052},{"x":70,"y":0.04},{"x":80,"y":0.031},{"x":90,"y":0.029},{"x":100,"y":0.027},{"x":110,"y":0.025},{"x":120,"y":0.022},{"x":130,"y":0.019},{"x":140,"y":0.017},{"x":150,"y":0.0148},{"x":160,"y":0.0135},{"x":170,"y":0.0125},{"x":180,"y":0.0128},{"x":190,"y":0.0112},{"x":200,"y":0.0118},{"x":210,"y":0.0105},{"x":220,"y":0.01},{"x":230,"y":0.0095},{"x":240,"y":0.009},{"x":250,"y":0.0086},{"x":260,"y":0.0084},{"x":270,"y":0.0087},{"x":280,"y":0.0082},{"x":290,"y":0.008},{"x":300,"y":0.0079},{"x":310,"y":0.0076},{"x":320,"y":0.0078},{"x":330,"y":0.0073},{"x":340,"y":0.0075},{"x":350,"y":0.007},{"x":360,"y":0.0072},{"x":370,"y":0.0066},{"x":380,"y":0.0062},{"x":390,"y":0.006},{"x":400,"y":0.0064},{"x":410,"y":0.0059},{"x":420,"y":0.0062},{"x":430,"y":0.006},{"x":440,"y":0.0063},{"x":450,"y":0.0061},{"x":460,"y":0.0064},{"x":470,"y":0.0058},{"x":480,"y":0.0053},{"x":490,"y":0.0049},{"x":500,"y":0.0048},{"x":510,"y":0.005},{"x":520,"y":0.0046},{"x":530,"y":0.0047},{"x":540,"y":0.0044},{"x":550,"y":0.0046},{"x":560,"y":0.0048},{"x":570,"y":0.005},{"x":580,"y":0.0047},{"x":590,"y":0.0051},{"x":600,"y":0.0053},{"x":610,"y":0.005},{"x":620,"y":0.0054},{"x":630,"y":0.0051},{"x":640,"y":0.0055},{"x":650,"y":0.0053},{"x":660,"y":0.0056},{"x":670,"y":0.0052},{"x":680,"y":0.0055},{"x":690,"y":0.0058},{"x":700,"y":0.0055},{"x":710,"y":0.0057},{"x":720,"y":0.0054},{"x":730,"y":0.0056},{"x":740,"y":0.0052},{"x":750,"y":0.0055},{"x":760,"y":0.0058},{"x":770,"y":0.0056},{"x":780,"y":0.0059},{"x":790,"y":0.0055},{"x":800,"y":0.0057},{"x":810,"y":0.0054},{"x":820,"y":0.0056},{"x":830,"y":0.0053},{"x":840,"y":0.0055},{"x":850,"y":0.0052},{"x":860,"y":0.0054},{"x":870,"y":0.005},{"x":880,"y":0.0052},{"x":890,"y":0.0048},{"x":900,"y":0.0046},{"x":910,"y":0.005},{"x":920,"y":0.0047},{"x":930,"y":0.0051},{"x":940,"y":0.0049},{"x":950,"y":0.0045},{"x":960,"y":0.0043},{"x":970,"y":0.0045},{"x":980,"y":0.0042},{"x":990,"y":0.0046},{"x":1000,"y":0.0044},{"x":1010,"y":0.0048},{"x":1020,"y":0.0046},{"x":1030,"y":0.005},{"x":1040,"y":0.0053},{"x":1050,"y":0.0051},{"x":1060,"y":0.0054},{"x":1070,"y":0.0052},{"x":1080,"y":0.0055},{"x":1090,"y":0.0053},{"x":1100,"y":0.0056},{"x":1110,"y":0.0053},{"x":1120,"y":0.0055},{"x":1130,"y":0.0052},{"x":1140,"y":0.0054},{"x":1150,"y":0.0051},{"x":1160,"y":0.0053},{"x":1170,"y":0.0049},{"x":1180,"y":0.0051},{"x":1190,"y":0.0047},{"x":1200,"y":0.0049},{"x":1210,"y":0.0045},{"x":1220,"y":0.0047},{"x":1230,"y":0.0044},{"x":1240,"y":0.0046},{"x":1250,"y":0.0048},{"x":1260,"y":0.0045},{"x":1270,"y":0.0043},{"x":1280,"y":0.004},{"x":1290,"y":0.0042},{"x":1300,"y":0.0037},{"x":1310,"y":0.004},{"x":1320,"y":0.0038},{"x":1330,"y":0.0041},{"x":1340,"y":0.0039},{"x":1350,"y":0.0042},{"x":1360,"y":0.004},{"x":1370,"y":0.0043},{"x":1380,"y":0.0039},{"x":1390,"y":0.0041},{"x":1400,"y":0.0044},{"x":1410,"y":0.0046},{"x":1420,"y":0.0043},{"x":1430,"y":0.0048},{"x":1440,"y":0.0045},{"x":1450,"y":0.0047},{"x":1460,"y":0.0044},{"x":1470,"y":0.0046},{"x":1480,"y":0.0043},{"x":1490,"y":0.0055},{"x":1500,"y":0.0045},{"x":1510,"y":0.0042},{"x":1520,"y":0.0044},{"x":1530,"y":0.004},{"x":1540,"y":0.0042},{"x":1550,"y":0.0038},{"x":1560,"y":0.0041},{"x":1570,"y":0.0037},{"x":1580,"y":0.004},{"x":1590,"y":0.0043},{"x":1600,"y":0.0039},{"x":1610,"y":0.0036},{"x":1620,"y":0.0038},{"x":1630,"y":0.0035},{"x":1640,"y":0.0037},{"x":1650,"y":0.0034},{"x":1660,"y":0.0036},{"x":1670,"y":0.0033},{"x":1680,"y":0.0035},{"x":1690,"y":0.0038},{"x":1700,"y":0.0036},{"x":1710,"y":0.0039},{"x":1720,"y":0.0037},{"x":1730,"y":0.004},{"x":1740,"y":0.0038},{"x":1750,"y":0.0041},{"x":1760,"y":0.0038},{"x":1770,"y":0.0036},{"x":1780,"y":0.0039},{"x":1790,"y":0.0037},{"x":1800,"y":0.0034},{"x":1810,"y":0.0036},{"x":1820,"y":0.0033},{"x":1830,"y":0.0035},{"x":1840,"y":0.0037},{"x":1850,"y":0.0035},{"x":1860,"y":0.0038},{"x":1870,"y":0.0036},{"x":1880,"y":0.004},{"x":1890,"y":0.0037},{"x":1900,"y":0.0041},{"x":1910,"y":0.0038},{"x":1920,"y":0.0034},{"x":1930,"y":0.0037},{"x":1940,"y":0.0032},{"x":1950,"y":0.0036},{"x":1960,"y":0.0038},{"x":1970,"y":0.0035},{"x":1980,"y":0.0039},{"x":1990,"y":0.0037},{"x":2000,"y":0.0041},{"x":2010,"y":0.0044},{"x":2020,"y":0.0047},{"x":2030,"y":0.0043},{"x":2040,"y":0.0048},{"x":2050,"y":0.0045},{"x":2060,"y":0.005},{"x":2070,"y":0.0047},{"x":2080,"y":0.0052},{"x":2090,"y":0.0055},{"x":2100,"y":0.003}
],
"lh": [
{"x":3,"y":0.26},{"x":10,"y":0.19},{"x":20,"y":0.14},{"x":30,"y":0.105},{"x":40,"y":0.082},{"x":50,"y":0.064},{"x":60,"y":0.051},{"x":70,"y":0.04},{"x":80,"y":0.032},{"x":90,"y":0.03},{"x":100,"y":0.028},{"x":110,"y":0.026},{"x":120,"y":0.023},{"x":130,"y":0.02},{"x":140,"y":0.017},{"x":150,"y":0.0145},{"x":160,"y":0.0125},{"x":170,"y":0.0118},{"x":180,"y":0.011},{"x":190,"y":0.0112},{"x":200,"y":0.0102},{"x":210,"y":0.0096},{"x":220,"y":0.0088},{"x":230,"y":0.0076},{"x":240,"y":0.0066},{"x":250,"y":0.0058},{"x":260,"y":0.0055},{"x":270,"y":0.0056},{"x":280,"y":0.0053},{"x":290,"y":0.0048},{"x":300,"y":0.0044},{"x":310,"y":0.0042},{"x":320,"y":0.0041},{"x":330,"y":0.0038},{"x":340,"y":0.0036},{"x":350,"y":0.0032},{"x":360,"y":0.0031},{"x":370,"y":0.0031},{"x":380,"y":0.003},{"x":390,"y":0.0028},{"x":400,"y":0.0029},{"x":410,"y":0.0027},{"x":420,"y":0.0028},{"x":430,"y":0.0026},{"x":440,"y":0.0027},{"x":450,"y":0.0025},{"x":460,"y":0.0024},{"x":470,"y":0.0022},{"x":480,"y":0.0021},{"x":490,"y":0.0022},{"x":500,"y":0.0023},{"x":510,"y":0.0022},{"x":520,"y":0.0023},{"x":530,"y":0.0021},{"x":540,"y":0.002},{"x":550,"y":0.0019},{"x":560,"y":0.0021},{"x":570,"y":0.0022},{"x":580,"y":0.0023},{"x":590,"y":0.002},{"x":600,"y":0.0018},{"x":610,"y":0.0019},{"x":620,"y":0.0018},{"x":630,"y":0.002},{"x":640,"y":0.0019},{"x":650,"y":0.0018},{"x":660,"y":0.002},{"x":670,"y":0.0019},{"x":680,"y":0.0018},{"x":690,"y":0.0019},{"x":700,"y":0.00185},{"x":710,"y":0.0019},{"x":720,"y":0.002},{"x":730,"y":0.0019},{"x":740,"y":0.002},{"x":750,"y":0.0018},{"x":760,"y":0.0017},{"x":770,"y":0.00175},{"x":780,"y":0.0017},{"x":790,"y":0.0016},{"x":800,"y":0.00165},{"x":810,"y":0.0016},{"x":820,"y":0.00155},{"x":830,"y":0.0015},{"x":840,"y":0.0014},{"x":850,"y":0.00145},{"x":860,"y":0.0015},{"x":870,"y":0.0014},{"x":880,"y":0.00145},{"x":890,"y":0.0013},{"x":900,"y":0.00135},{"x":910,"y":0.00128},{"x":920,"y":0.0014},{"x":930,"y":0.00132},{"x":940,"y":0.0013},{"x":950,"y":0.00138},{"x":960,"y":0.0012},{"x":970,"y":0.00115},{"x":980,"y":0.0014},{"x":990,"y":0.0015},{"x":1000,"y":0.00155},{"x":1010,"y":0.0016},{"x":1020,"y":0.00152},{"x":1030,"y":0.0015},{"x":1040,"y":0.0014},{"x":1050,"y":0.00145},{"x":1060,"y":0.0013},{"x":1070,"y":0.00135},{"x":1080,"y":0.0012},{"x":1090,"y":0.00125},{"x":1100,"y":0.00118},{"x":1110,"y":0.0011},{"x":1120,"y":0.00118},{"x":1130,"y":0.00112},{"x":1140,"y":0.0012},{"x":1150,"y":0.00115},{"x":1160,"y":0.00122},{"x":1170,"y":0.00116},{"x":1180,"y":0.0012},{"x":1190,"y":0.00125},{"x":1200,"y":0.00118},{"x":1210,"y":0.00126},{"x":1220,"y":0.0012},{"x":1230,"y":0.00128},{"x":1240,"y":0.00135},{"x":1250,"y":0.0013},{"x":1260,"y":0.0014},{"x":1270,"y":0.00135},{"x":1280,"y":0.00145},{"x":1290,"y":0.0015},{"x":1300,"y":0.00158},{"x":1310,"y":0.0015},{"x":1320,"y":0.00155},{"x":1330,"y":0.00142},{"x":1340,"y":0.00135},{"x":1350,"y":0.00128},{"x":1360,"y":0.00135},{"x":1370,"y":0.0013},{"x":1380,"y":0.00138},{"x":1390,"y":0.00142},{"x":1400,"y":0.00138},{"x":1410,"y":0.00142},{"x":1420,"y":0.00132},{"x":1430,"y":0.00125},{"x":1440,"y":0.0012},{"x":1450,"y":0.00115},{"x":1460,"y":0.00112},{"x":1470,"y":0.00105},{"x":1480,"y":0.0011},{"x":1490,"y":0.00102},{"x":1500,"y":0.00108},{"x":1510,"y":0.0011},{"x":1520,"y":0.00115},{"x":1530,"y":0.00105},{"x":1540,"y":0.00102},{"x":1550,"y":0.0011},{"x":1560,"y":0.001},{"x":1570,"y":0.00095},{"x":1580,"y":0.00092},{"x":1590,"y":0.00097},{"x":1600,"y":0.001},{"x":1610,"y":0.00093},{"x":1620,"y":0.00088},{"x":1630,"y":0.00085},{"x":1640,"y":0.0008},{"x":1650,"y":0.00084},{"x":1660,"y":0.00078},{"x":1670,"y":0.00074},{"x":1680,"y":0.00079},{"x":1690,"y":0.00082},{"x":1700,"y":0.00086},{"x":1710,"y":0.0009},{"x":1720,"y":0.00087},{"x":1730,"y":0.00091},{"x":1740,"y":0.00094},{"x":1750,"y":0.0009},{"x":1760,"y":0.00096},{"x":1770,"y":0.00093},{"x":1780,"y":0.001},{"x":1790,"y":0.00104},{"x":1800,"y":0.00097},{"x":1810,"y":0.00088},{"x":1820,"y":0.0008},{"x":1830,"y":0.00074},{"x":1840,"y":0.00078},{"x":1850,"y":0.00082},{"x":1860,"y":0.00086},{"x":1870,"y":0.0008},{"x":1880,"y":0.00084},{"x":1890,"y":0.00088},{"x":1900,"y":0.00084},{"x":1910,"y":0.0009},{"x":1920,"y":0.00086},{"x":1930,"y":0.00092},{"x":1940,"y":0.00098},{"x":1950,"y":0.00104},{"x":1960,"y":0.00095},{"x":1970,"y":0.00085},{"x":1980,"y":0.00078},{"x":1990,"y":0.00074},{"x":2000,"y":0.00072},{"x":2010,"y":0.00075},{"x":2020,"y":0.00071},{"x":2030,"y":0.00074},{"x":2040,"y":0.0007},{"x":2050,"y":0.00076},{"x":2060,"y":0.00071},{"x":2070,"y":0.00068},{"x":2080,"y":0.00066},{"x":2090,"y":0.00069},{"x":2100,"y":0.00064}
],
"lg": [
{"x":3,"y":0.097},{"x":8,"y":0.05},{"x":13,"y":0.027},{"x":20,"y":0.0085},{"x":25,"y":0.0062},{"x":30,"y":0.0049},{"x":35,"y":0.004},{"x":40,"y":0.0033},{"x":45,"y":0.0029},{"x":50,"y":0.0022},{"x":55,"y":0.002},{"x":60,"y":0.0017},{"x":65,"y":0.00165},{"x":70,"y":0.0014},{"x":75,"y":0.00125},{"x":80,"y":0.00118},{"x":90,"y":0.00095},{"x":100,"y":0.00085},{"x":110,"y":0.00078},{"x":115,"y":0.00072},{"x":120,"y":0.00071},{"x":125,"y":0.00078},{"x":130,"y":0.0007},{"x":140,"y":0.00074},{"x":145,"y":0.0007},{"x":150,"y":0.0013},{"x":155,"y":0.00078},{"x":160,"y":0.00072},{"x":170,"y":0.0009},{"x":175,"y":0.00075},{"x":180,"y":0.00088},{"x":190,"y":0.00072},{"x":200,"y":0.00075},{"x":210,"y":0.0007},{"x":220,"y":0.00068},{"x":230,"y":0.00065},{"x":240,"y":0.00069},{"x":250,"y":0.00066},{"x":260,"y":0.00071},{"x":270,"y":0.00067},{"x":280,"y":0.00064},{"x":290,"y":0.0007},{"x":300,"y":0.00066},{"x":310,"y":0.00068},{"x":320,"y":0.00063},{"x":330,"y":0.00069},{"x":340,"y":0.00066},{"x":350,"y":0.00071},{"x":360,"y":0.00064},{"x":370,"y":0.00068},{"x":380,"y":0.00065},{"x":390,"y":0.00062},{"x":400,"y":0.00067},{"x":410,"y":0.0007},{"x":420,"y":0.00066},{"x":430,"y":0.00072},{"x":440,"y":0.00067},{"x":450,"y":0.00064},{"x":460,"y":0.00069},{"x":470,"y":0.00066},{"x":480,"y":0.0007},{"x":490,"y":0.00065},{"x":500,"y":0.00068},{"x":510,"y":0.00072},{"x":520,"y":0.00066},{"x":530,"y":0.00063},{"x":540,"y":0.00068},{"x":550,"y":0.00065},{"x":560,"y":0.0007},{"x":570,"y":0.00067},{"x":580,"y":0.00064},{"x":590,"y":0.00069},{"x":600,"y":0.00066},{"x":610,"y":0.00071},{"x":620,"y":0.00065},{"x":630,"y":0.00062},{"x":640,"y":0.00067},{"x":650,"y":0.0007},{"x":660,"y":0.00066},{"x":670,"y":0.00069},{"x":680,"y":0.00064},{"x":690,"y":0.00068},{"x":700,"y":0.00072},{"x":710,"y":0.00066},{"x":720,"y":0.00069},{"x":730,"y":0.00065},{"x":740,"y":0.00067},{"x":750,"y":0.00063},{"x":760,"y":0.00068},{"x":770,"y":0.00071},{"x":780,"y":0.00066},{"x":790,"y":0.00069},{"x":800,"y":0.00064},{"x":810,"y":0.00067},{"x":820,"y":0.00065},{"x":830,"y":0.0007},{"x":840,"y":0.00066},{"x":850,"y":0.00063},{"x":860,"y":0.00068},{"x":870,"y":0.00065},{"x":880,"y":0.00069},{"x":890,"y":0.00066},{"x":900,"y":0.00071},{"x":910,"y":0.00065},{"x":920,"y":0.00068},{"x":930,"y":0.00064},{"x":940,"y":0.00069},{"x":950,"y":0.00066},{"x":960,"y":0.00062},{"x":970,"y":0.00067},{"x":980,"y":0.00072},{"x":990,"y":0.00068},{"x":1000,"y":0.00065},{"x":1010,"y":0.0007},{"x":1020,"y":0.00066},{"x":1030,"y":0.00069},{"x":1040,"y":0.00064},{"x":1050,"y":0.00068},{"x":1060,"y":0.00065},{"x":1070,"y":0.0007},{"x":1080,"y":0.00066},{"x":1090,"y":0.00063},{"x":1100,"y":0.00068},{"x":1110,"y":0.00071},{"x":1120,"y":0.00066},{"x":1130,"y":0.00069},{"x":1140,"y":0.00065},{"x":1150,"y":0.00068},{"x":1160,"y":0.00064},{"x":1170,"y":0.00069},{"x":1180,"y":0.00066},{"x":1190,"y":0.0007},{"x":1200,"y":0.00065},{"x":1210,"y":0.00068},{"x":1220,"y":0.00063},{"x":1230,"y":0.00067},{"x":1240,"y":0.0007},{"x":1250,"y":0.00066},{"x":1260,"y":0.00064},{"x":1270,"y":0.00068},{"x":1280,"y":0.00065},{"x":1290,"y":0.0007},{"x":1300,"y":0.00066},{"x":1310,"y":0.00062},{"x":1320,"y":0.00067},{"x":1330,"y":0.00069},{"x":1340,"y":0.00065},{"x":1350,"y":0.00068},{"x":1360,"y":0.00064},{"x":1370,"y":0.00069},{"x":1380,"y":0.00066},{"x":1390,"y":0.00071},{"x":1400,"y":0.00067},{"x":1410,"y":0.00064},{"x":1420,"y":0.00068},{"x":1430,"y":0.00065},{"x":1440,"y":0.0007},{"x":1450,"y":0.00066},{"x":1460,"y":0.00069},{"x":1470,"y":0.00064},{"x":1480,"y":0.00067},{"x":1490,"y":0.00063},{"x":1500,"y":0.00068},{"x":1510,"y":0.00065},{"x":1520,"y":0.0007},{"x":1530,"y":0.00066},{"x":1540,"y":0.00069},{"x":1550,"y":0.00064},{"x":1560,"y":0.00068},{"x":1570,"y":0.00072},{"x":1580,"y":0.00067},{"x":1590,"y":0.0007},{"x":1600,"y":0.00074},{"x":1610,"y":0.00069},{"x":1620,"y":0.00066},{"x":1630,"y":0.0007},{"x":1640,"y":0.00065},{"x":1650,"y":0.00068},{"x":1660,"y":0.00063},{"x":1670,"y":0.00067},{"x":1680,"y":0.00071},{"x":1690,"y":0.00068},{"x":1700,"y":0.00072},{"x":1710,"y":0.00068},{"x":1720,"y":0.00065},{"x":1730,"y":0.00069},{"x":1740,"y":0.00066},{"x":1750,"y":0.00071},{"x":1760,"y":0.00067},{"x":1770,"y":0.00064},{"x":1780,"y":0.00069},{"x":1790,"y":0.00066},{"x":1800,"y":0.0007},{"x":1810,"y":0.00065},{"x":1820,"y":0.00068},{"x":1830,"y":0.00071},{"x":1840,"y":0.00066},{"x":1850,"y":0.00069},{"x":1860,"y":0.00064},{"x":1870,"y":0.00068},{"x":1880,"y":0.00065},{"x":1890,"y":0.0007},{"x":1900,"y":0.00066},{"x":1910,"y":0.00069},{"x":1920,"y":0.00064},{"x":1930,"y":0.00068},{"x":1940,"y":0.00065},{"x":1950,"y":0.00069},{"x":1960,"y":0.00066},{"x":1970,"y":0.00071},{"x":1980,"y":0.00067},{"x":1990,"y":0.00064},{"x":2000,"y":0.00068},{"x":2010,"y":0.00065},{"x":2020,"y":0.00069},{"x":2030,"y":0.00066},{"x":2040,"y":0.00063},{"x":2050,"y":0.00067},{"x":2060,"y":0.00065},{"x":2070,"y":0.00069},{"x":2080,"y":0.00066},{"x":2090,"y":0.00068},{"x":2100,"y":0.00065}
]
},
"spacing": 29,
"hconcat": [
{
  "title": {"text": "(a)", "dx": -51, "offset": 9},
  "spacing": 26,
  "vconcat": [
    {
      "spacing": 29,
      "hconcat": [
        {
          "width": 344, "height": 185,
          "view": {"stroke": "black", "strokeWidth": 1.5},
          "data": {"name": "s1000"},
          "mark": {"type": "point", "shape": "circle", "filled": false, "size": 16, "stroke": "black", "strokeWidth": 1.2, "opacity": 1, "clip": true},
          "encoding": {
            "x": {"field": "x", "type": "quantitative", "scale": {"domain": [-0.02, 0.52], "nice": false, "zero": false},
                  "axis": {"values": [0, 0.1, 0.2, 0.3, 0.4, 0.5], "format": ".1f", "title": "Original MAF", "grid": true, "gridDash": [3, 3], "gridColor": "#bdbdbd", "gridWidth": 1, "domain": false, "offset": 4, "tickSize": 10, "tickWidth": 1.3, "tickColor": "#222", "labelFontSize": 20, "labelColor": "#111", "labelPadding": 20, "titleFontSize": 21, "titleFontWeight": "normal", "titleColor": "#111", "titlePadding": 30}},
            "y": {"field": "y", "type": "quantitative", "scale": {"domain": [-0.018, 0.522], "nice": false, "zero": false},
                  "axis": {"values": [0, 0.1, 0.2, 0.3, 0.4, 0.5], "format": ".1f", "labelExpr": "(datum.value == 0 || datum.value == 0.2 || datum.value == 0.4) ? datum.label : ''", "title": "sim1000G", "grid": true, "gridDash": [3, 3], "gridColor": "#bdbdbd", "gridWidth": 1, "domain": false, "offset": 4, "tickSize": 10, "tickWidth": 1.3, "tickColor": "#222", "labelFontSize": 20, "labelColor": "#111", "labelPadding": 15, "labelAngle": -90, "labelAlign": "center", "labelBaseline": "bottom", "titleFontSize": 21, "titleFontWeight": "normal", "titleColor": "#111", "titlePadding": 32}}
          }
        },
        {
          "width": 344, "height": 185,
          "view": {"stroke": "black", "strokeWidth": 1.5},
          "data": {"name": "hap"},
          "mark": {"type": "point", "shape": "circle", "filled": false, "size": 16, "stroke": "black", "strokeWidth": 1.2, "opacity": 1, "clip": true},
          "encoding": {
            "x": {"field": "x", "type": "quantitative", "scale": {"domain": [-0.02, 0.52], "nice": false, "zero": false},
                  "axis": {"values": [0, 0.1, 0.2, 0.3, 0.4, 0.5], "format": ".1f", "title": "Original MAF", "grid": true, "gridDash": [3, 3], "gridColor": "#bdbdbd", "gridWidth": 1, "domain": false, "offset": 4, "tickSize": 10, "tickWidth": 1.3, "tickColor": "#222", "labelFontSize": 20, "labelColor": "#111", "labelPadding": 20, "titleFontSize": 21, "titleFontWeight": "normal", "titleColor": "#111", "titlePadding": 30}},
            "y": {"field": "y", "type": "quantitative", "scale": {"domain": [-0.018, 0.522], "nice": false, "zero": false},
                  "axis": {"values": [0, 0.1, 0.2, 0.3, 0.4, 0.5], "format": ".1f", "labelExpr": "(datum.value == 0 || datum.value == 0.2 || datum.value == 0.4) ? datum.label : ''", "title": "hapgen2", "grid": true, "gridDash": [3, 3], "gridColor": "#bdbdbd", "gridWidth": 1, "domain": false, "offset": 4, "tickSize": 10, "tickWidth": 1.3, "tickColor": "#222", "labelFontSize": 20, "labelColor": "#111", "labelPadding": 15, "labelAngle": -90, "labelAlign": "center", "labelBaseline": "bottom", "titleFontSize": 21, "titleFontWeight": "normal", "titleColor": "#111", "titlePadding": 32}}
          }
        }
      ]
    },
    {
      "width": 344, "height": 186,
      "view": {"stroke": "black", "strokeWidth": 1.5},
      "data": {"name": "sgwas"},
      "mark": {"type": "point", "shape": "circle", "filled": false, "size": 16, "stroke": "black", "strokeWidth": 1.2, "opacity": 1, "clip": true},
      "encoding": {
        "x": {"field": "x", "type": "quantitative", "scale": {"domain": [-0.02, 0.52], "nice": false, "zero": false},
              "axis": {"values": [0, 0.1, 0.2, 0.3, 0.4, 0.5], "format": ".1f", "title": "Original MAF", "grid": true, "gridDash": [3, 3], "gridColor": "#bdbdbd", "gridWidth": 1, "domain": false, "offset": 4, "tickSize": 10, "tickWidth": 1.3, "tickColor": "#222", "labelFontSize": 20, "labelColor": "#111", "labelPadding": 20, "titleFontSize": 21, "titleFontWeight": "normal", "titleColor": "#111", "titlePadding": 30}},
        "y": {"field": "y", "type": "quantitative", "scale": {"domain": [-0.018, 0.522], "nice": false, "zero": false},
              "axis": {"values": [0, 0.1, 0.2, 0.3, 0.4, 0.5], "format": ".1f", "labelExpr": "(datum.value == 0 || datum.value == 0.2 || datum.value == 0.4) ? datum.label : ''", "title": "simuGWAS", "grid": true, "gridDash": [3, 3], "gridColor": "#bdbdbd", "gridWidth": 1, "domain": false, "offset": 4, "tickSize": 10, "tickWidth": 1.3, "tickColor": "#222", "labelFontSize": 20, "labelColor": "#111", "labelPadding": 15, "labelAngle": -90, "labelAlign": "center", "labelBaseline": "bottom", "titleFontSize": 21, "titleFontWeight": "normal", "titleColor": "#111", "titlePadding": 32}}
      }
    }
  ]
},
{
  "title": {"text": "(b)", "dx": 10, "offset": 12},
  "width": 793, "height": 543,
  "view": {"stroke": "#6e6e6e", "strokeWidth": 1.3},
  "resolve": {"axis": {"x": "independent", "y": "independent"}},
  "layer": [
    {
      "data": {"name": "lo"},
      "mark": {"type": "line", "stroke": "black", "strokeWidth": 1.1, "clip": true},
      "encoding": {
        "x": {"field": "x", "type": "quantitative", "scale": {"domain": [-105, 2205], "nice": false, "zero": false},
              "axis": {"values": [0, 500, 1000, 1500, 2000], "format": "d", "title": "Distance between markers (kb)", "grid": true, "gridColor": "#ebebeb", "gridWidth": 1.1, "domain": false, "tickSize": 4, "tickColor": "#333", "labelFontSize": 12, "labelColor": "#4d4d4d", "labelPadding": 3, "titleFontSize": 15, "titleFontWeight": "normal", "titleColor": "black", "titlePadding": 4}},
        "y": {"field": "y", "type": "quantitative", "scale": {"type": "log", "domain": [0.000434, 0.682], "nice": false, "zero": false},
              "axis": {"values": [0.001, 0.01, 0.1], "format": ".3f", "title": "Mean r squared", "grid": true, "gridColor": "#ebebeb", "gridWidth": 1.1, "domain": false, "tickSize": 5, "tickColor": "#333", "labelFontSize": 12, "labelColor": "#4d4d4d", "labelPadding": 2, "titleFontSize": 13, "titleFontWeight": "normal", "titleColor": "black", "titlePadding": 14}},
        "strokeDash": {"datum": "original data", "type": "nominal",
              "scale": {"domain": ["original data", "sim1000G", "hapgen2", "simuGWAS"], "range": [[1, 0], [2, 2], [6, 3], [6, 5]]},
              "legend": {"title": "simulator", "orient": "none", "legendX": 1735, "legendY": 216, "titleFontSize": 11.5, "titleFontWeight": "normal", "titleColor": "black", "titlePadding": 13, "labelFontSize": 9.5, "labelColor": "black", "labelOffset": 5, "symbolType": "stroke", "symbolStrokeWidth": 1.2, "symbolStrokeColor": "black", "symbolSize": 324, "rowPadding": 4}}
      }
    },
    {
      "data": {"name": "ls"},
      "mark": {"type": "line", "stroke": "black", "strokeWidth": 1.1, "clip": true},
      "encoding": {
        "x": {"field": "x", "type": "quantitative", "scale": {"domain": [-105, 2205], "nice": false, "zero": false},
              "axis": {"orient": "top", "values": [250, 750, 1250, 1750], "grid": true, "gridColor": "#f2f2f2", "gridWidth": 0.7, "labels": false, "ticks": false, "domain": false, "title": null}},
        "y": {"field": "y", "type": "quantitative", "scale": {"type": "log", "domain": [0.000434, 0.682], "nice": false, "zero": false},
              "axis": {"orient": "right", "values": [0.00316, 0.0316, 0.316], "grid": true, "gridColor": "#f2f2f2", "gridWidth": 0.7, "labels": false, "ticks": false, "domain": false, "title": null}},
        "strokeDash": {"datum": "sim1000G", "type": "nominal"}
      }
    },
    {
      "data": {"name": "lh"},
      "mark": {"type": "line", "stroke": "black", "strokeWidth": 1.1, "clip": true},
      "encoding": {
        "x": {"field": "x", "type": "quantitative", "scale": {"domain": [-105, 2205], "nice": false, "zero": false}, "axis": null},
        "y": {"field": "y", "type": "quantitative", "scale": {"type": "log", "domain": [0.000434, 0.682], "nice": false, "zero": false}, "axis": null},
        "strokeDash": {"datum": "hapgen2", "type": "nominal"}
      }
    },
    {
      "data": {"name": "lg"},
      "mark": {"type": "line", "stroke": "black", "strokeWidth": 1.1, "clip": true},
      "encoding": {
        "x": {"field": "x", "type": "quantitative", "scale": {"domain": [-105, 2205], "nice": false, "zero": false}, "axis": null},
        "y": {"field": "y", "type": "quantitative", "scale": {"type": "log", "domain": [0.000434, 0.682], "nice": false, "zero": false}, "axis": null},
        "strokeDash": {"datum": "simuGWAS", "type": "nominal"}
      }
    }
  ]
}
]
}
